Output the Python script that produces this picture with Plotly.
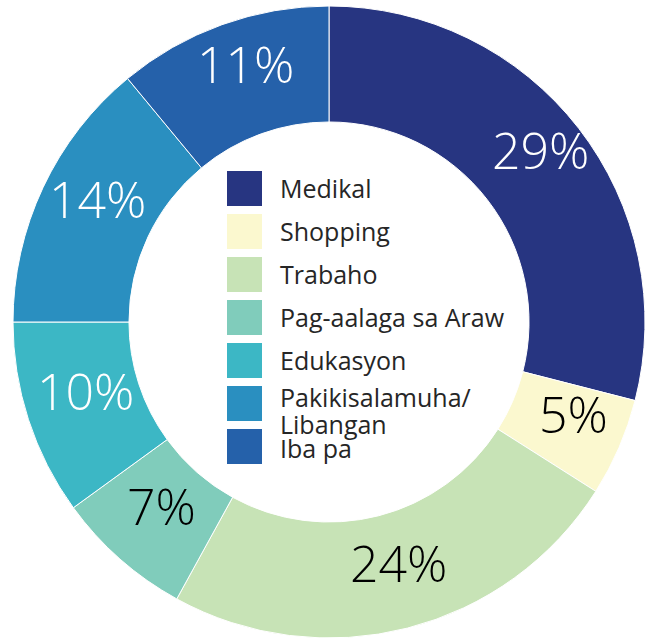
import math
import plotly.graph_objects as go

# Share of trips by purpose (percent)
categories = ["Medikal", "Shopping", "Trabaho", "Pag-aalaga sa Araw",
              "Edukasyon", "Pakikisalamuha/\nLibangan", "Iba pa"]
values = [29, 5, 24, 7, 10, 14, 11]
colors = ["#273581", "#FBF8CF", "#C7E3B6", "#80CCBB", "#3CB7C5", "#2A8FC0", "#2561AA"]
label_colors = ["white", "black", "black", "black", "white", "white", "white"]

W, H = 651, 638
CX, CY, R = 329, 322, 316          # donut centre and outer radius, px
HOLE = 0.633
PCT_FONT = dict(family="Open Sans", size=50, weight=300)
LEG_FONT = dict(family="Open Sans", size=25, color="#262626")

fig = go.Figure(go.Pie(
    labels=[c.replace("\n", "") for c in categories],
    values=values,
    hole=HOLE,
    sort=False,
    direction="clockwise",
    rotation=0,
    marker=dict(colors=colors, line=dict(color="white", width=1)),
    textinfo="none",
    hoverinfo="label+percent",
    showlegend=False,
    domain=dict(x=[(CX - R) / W, (CX + R) / W], y=[(H - CY - R) / H, (H - CY + R) / H]),
))

# Percentage labels placed on the middle of each ring segment
total = sum(values)
cum = 0
r_lab = R * (1 + HOLE) / 2 + 3
for v, c in zip(values, label_colors):
    a = 2 * math.pi * (cum + v / 2) / total
    cum += v
    px = CX + r_lab * math.sin(a) + 5
    py = CY - r_lab * math.cos(a) - 12
    fig.add_annotation(
        x=px / W, y=1 - py / H, xref="paper", yref="paper",
        text=f"{round(100 * v / total)}%", showarrow=False,
        xanchor="center", yanchor="middle",
        font=dict(color=c, **PCT_FONT),
    )

# Legend drawn inside the hole: coloured squares with labels
LX, LY0, STEP, SZ, LINE = 227, 171, 43, 35, 27
for i, (name, col) in enumerate(zip(categories, colors)):
    top = LY0 + i * STEP
    fig.add_shape(
        type="rect", xref="paper", yref="paper",
        x0=LX / W, x1=(LX + SZ) / W, y0=1 - top / H, y1=1 - (top + SZ) / H,
        fillcolor=col, line=dict(width=0),
    )
    lines = name.split("\n")
    first = top - 2 - 6 * (len(lines) - 1) + (2 if i == len(categories) - 1 else 0)
    for j, line in enumerate(lines):
        fig.add_annotation(
            x=278 / W, y=1 - (first + j * LINE) / H, xref="paper", yref="paper",
            text=line, showarrow=False, xanchor="left", yanchor="top",
            align="left", font=LEG_FONT,
        )

fig.update_layout(
    width=W, height=H,
    margin=dict(l=0, r=0, t=0, b=0),
    paper_bgcolor="white", plot_bgcolor="white",
)

fig.write_html("out.html")
